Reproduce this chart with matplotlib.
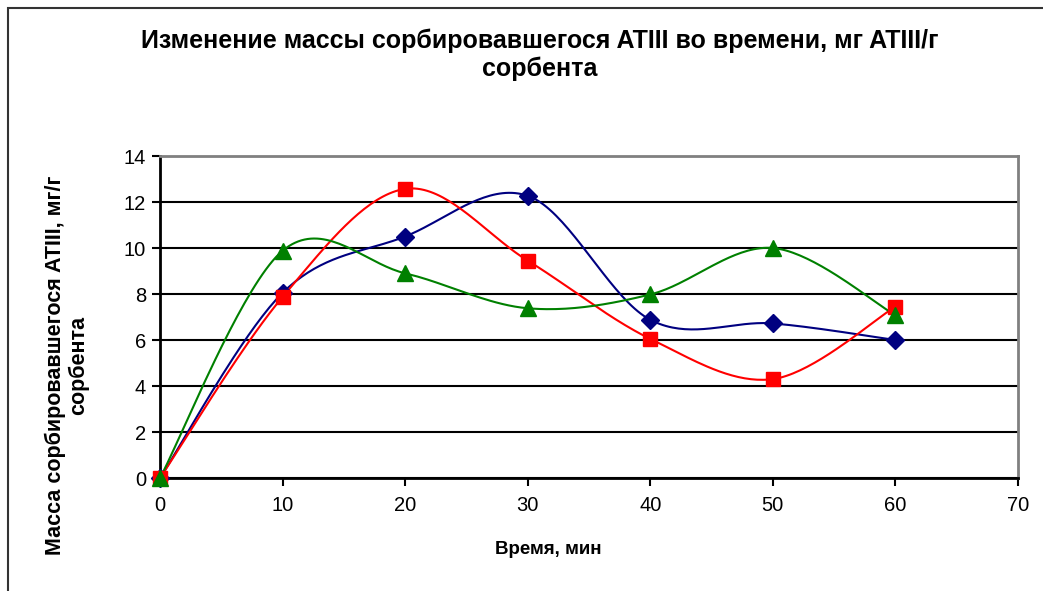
import numpy as np
import matplotlib
matplotlib.use('Agg')
import matplotlib.pyplot as plt
from matplotlib.patches import Rectangle

plt.rcParams['font.family'] = ['Liberation Sans', 'DejaVu Sans']

# Time points, min
time_min = [0, 10, 20, 30, 40, 50, 60]

# Sorbed ATIII mass, mg/g sorbent
series_blue = [0, 8.05, 10.5, 12.27, 6.88, 6.72, 6.0]
series_red = [0, 7.87, 12.57, 9.45, 6.05, 4.3, 7.45]
series_green = [0, 9.88, 8.9, 7.38, 7.98, 10.0, 7.08]

x_ticks = [0, 10, 20, 30, 40, 50, 60, 70]
y_ticks = [0, 2, 4, 6, 8, 10, 12, 14]

title = 'Изменение массы сорбировавшегося ATIII во времени, мг ATIII/г\nсорбента'
x_label = 'Время, мин'
y_label = 'Масса сорбировавшегося ATIII, мг/г\nсорбента'


def smooth_curve(xs, ys, n=40):
    # Excel-like smoothed line: cubic Bezier through the points
    p = np.column_stack([xs, ys]).astype(float)
    out = []
    for i in range(len(p) - 1):
        p_prev = p[i - 1] if i > 0 else p[i]
        p_next = p[i + 2] if i + 2 < len(p) else p[i + 1]
        c1 = p[i] + (p[i + 1] - p_prev) / 6
        c2 = p[i + 1] - (p_next - p[i]) / 6
        t = np.linspace(0, 1, n)[:, None]
        seg = ((1 - t) ** 3 * p[i] + 3 * (1 - t) ** 2 * t * c1
               + 3 * (1 - t) * t ** 2 * c2 + t ** 3 * p[i + 1])
        out.append(seg if i == 0 else seg[1:])
    out = np.vstack(out)
    return out[:, 0], out[:, 1]


W, H = 1043, 591
fig = plt.figure(figsize=(W / 100, H / 100), dpi=100)
ax = fig.add_axes([160 / W, 1 - 478 / H, (1018 - 160) / W, (478 - 156) / H])

# chart frame
fig.add_artist(Rectangle((8 / W, -0.1), 1.2, (H - 8) / H + 0.1,
                         transform=fig.transFigure, fill=False,
                         edgecolor='#333333', linewidth=1.5))

for ys, color, marker, ms in [(series_blue, '#000080', 'D', 9),
                              (series_red, '#ff0000', 's', 10.5),
                              (series_green, '#008000', '^', 11.5)]:
    sx, sy = smooth_curve(time_min, ys)
    ax.plot(sx, sy, color=color, linewidth=1.5, zorder=3)
    ax.plot(time_min, ys, linestyle='none', marker=marker, markersize=ms,
            color=color, markeredgecolor=color, zorder=4, clip_on=False)

ax.set_xlim(0, 70)
ax.set_ylim(0, 14)
ax.set_xticks(x_ticks)
ax.set_yticks(y_ticks)
ax.tick_params(direction='out', length=6, width=1.5, labelsize=14.5)
ax.tick_params(axis='x', pad=7)
ax.tick_params(axis='y', pad=4)
ax.yaxis.grid(True, color='black', linewidth=1.5)
ax.set_axisbelow(True)

for side in ['left', 'bottom']:
    ax.spines[side].set_linewidth(2)
    ax.spines[side].set_color('black')
for side in ['top', 'right']:
    ax.spines[side].set_linewidth(2)
    ax.spines[side].set_color('#808080')

fig.text(540 / W, 1 - 55 / H, title, ha='center', va='center',
         fontsize=18, fontweight='bold', linespacing=1.2)
fig.text(548 / W, 1 - 550 / H, x_label, ha='center', va='center',
         fontsize=13.5, fontweight='bold')
fig.text(67 / W, 1 - 365 / H, y_label, ha='center', va='center',
         rotation=90, fontsize=15.5, fontweight='bold', linespacing=1.15)

fig.savefig('out.png', dpi=100)
